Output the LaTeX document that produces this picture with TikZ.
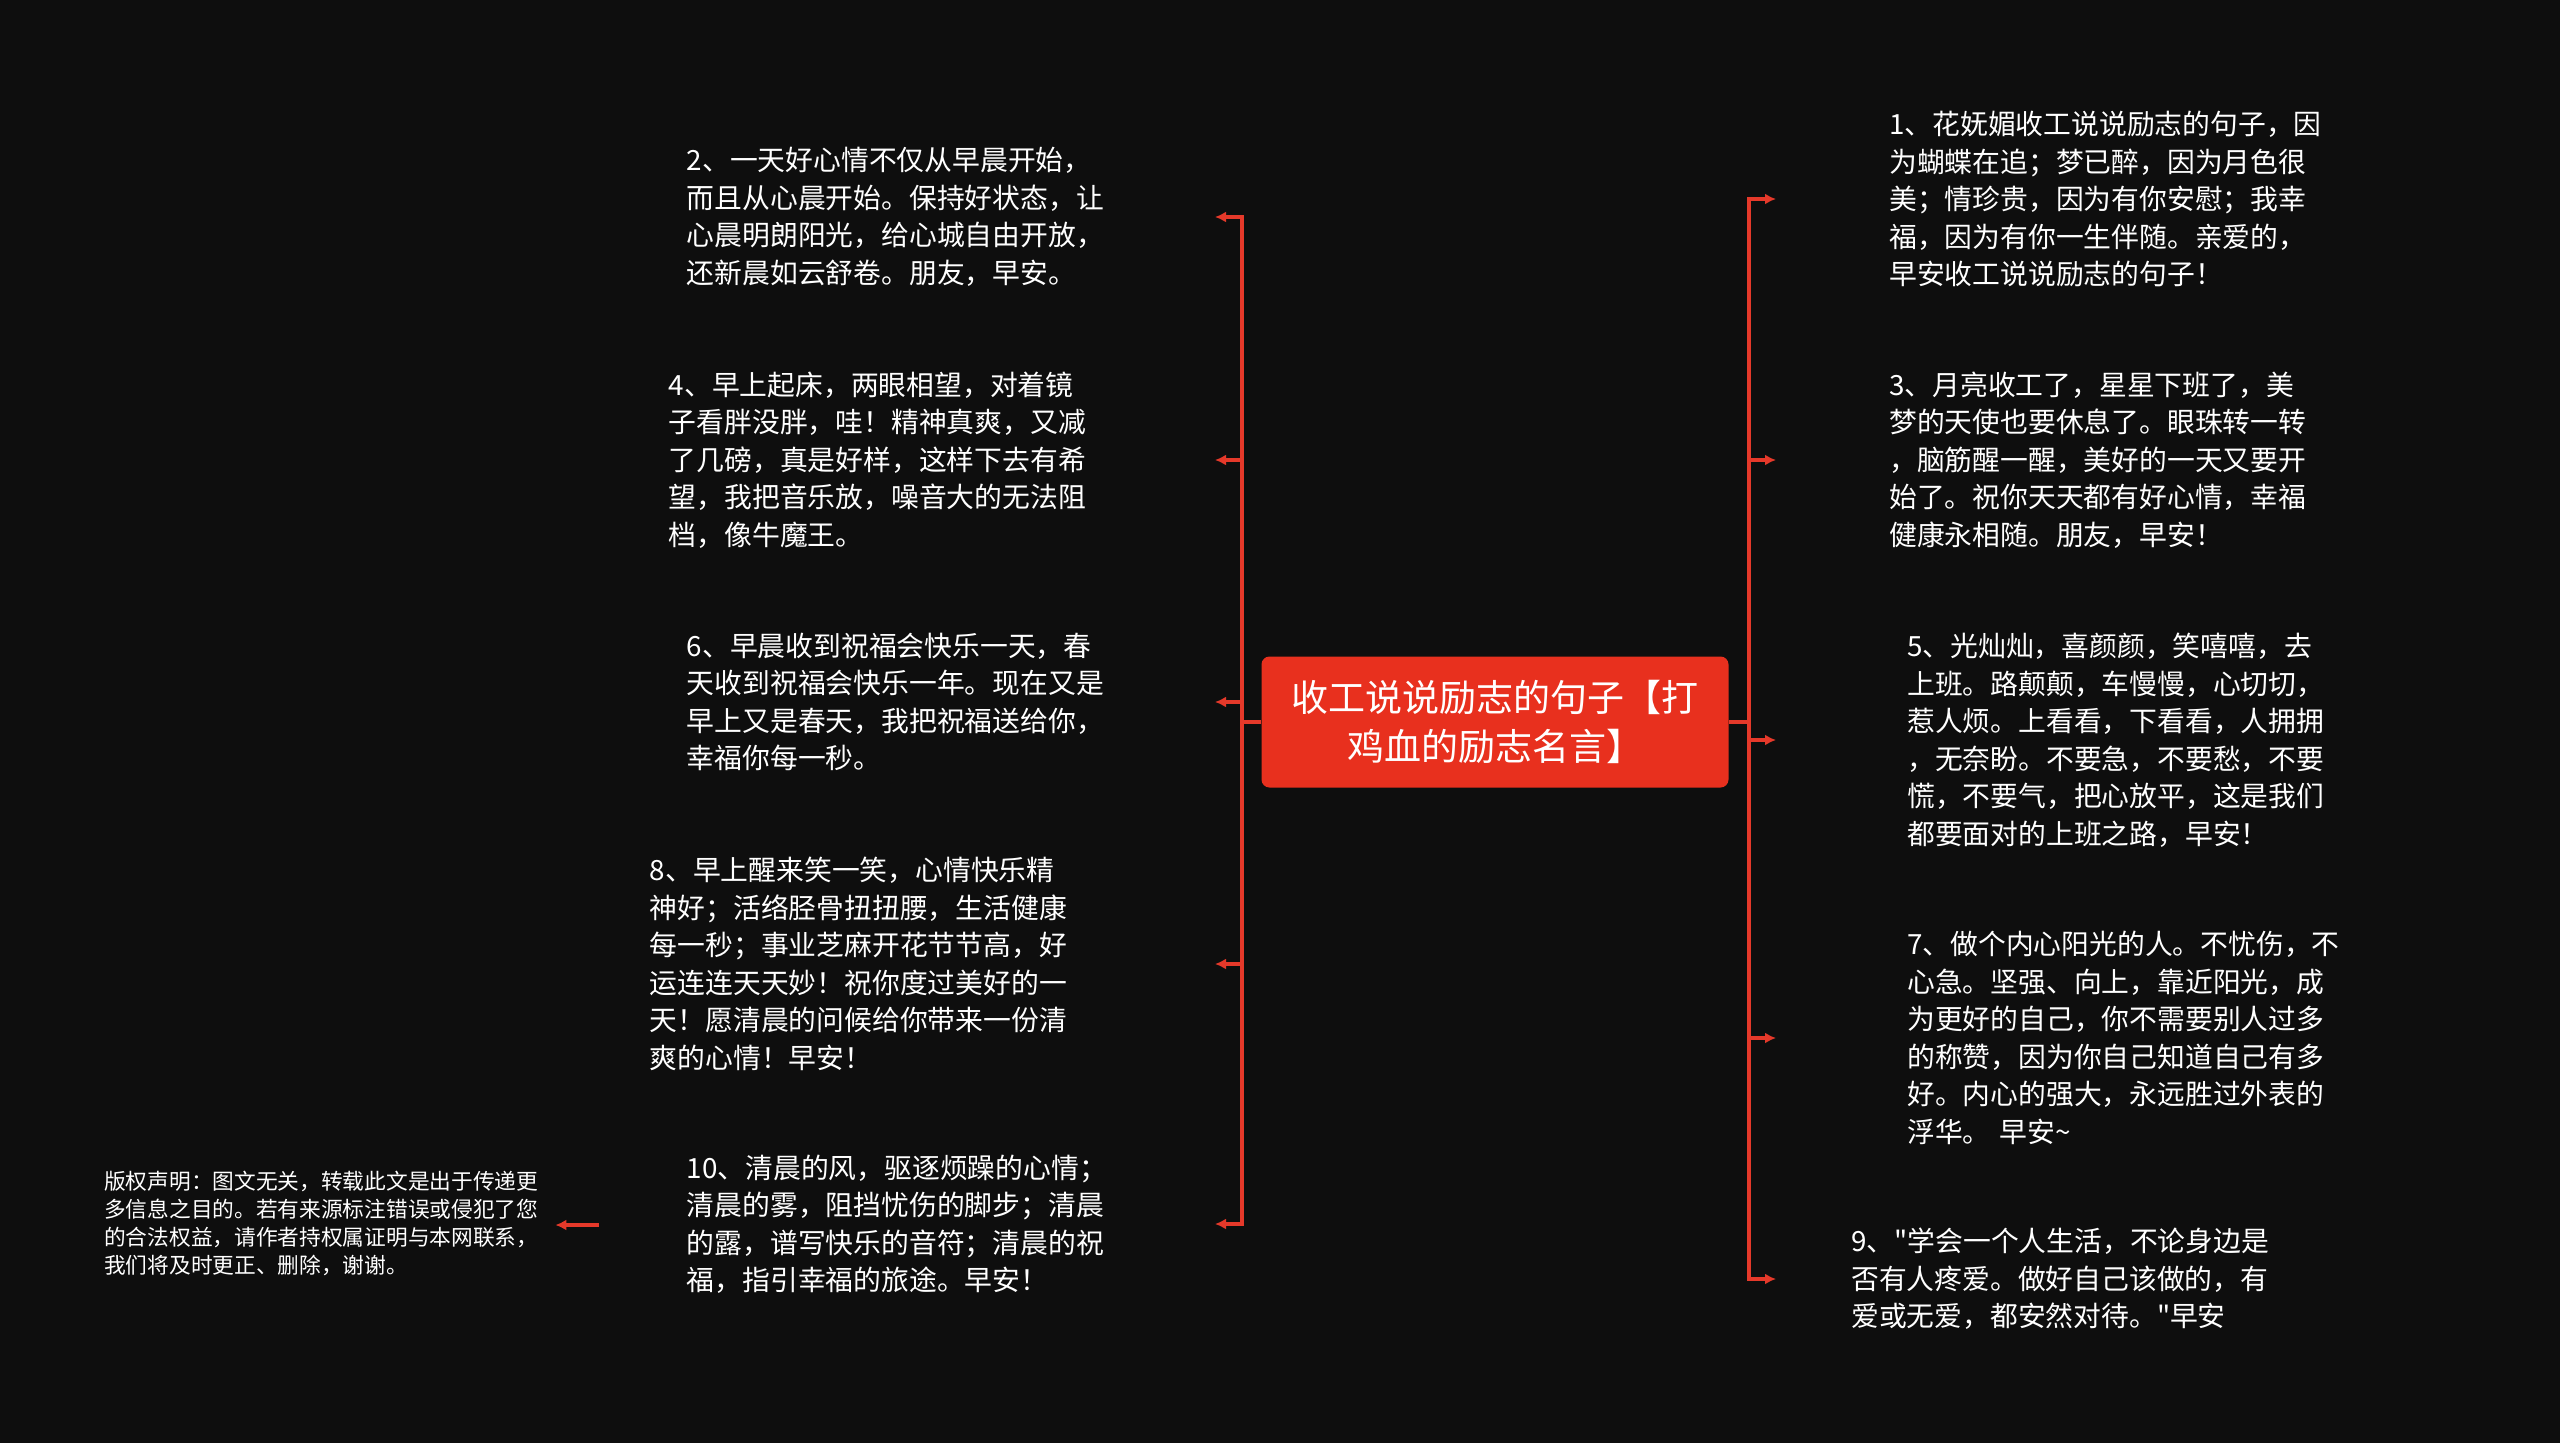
\documentclass[tikz,border=0pt]{standalone}
\usepackage{fontspec}
\newfontfamily\cjkfont{Noto Sans CJK SC}
\usetikzlibrary{arrows.meta}
\definecolor{bg}{HTML}{0E0E0E}
\definecolor{redc}{HTML}{E8301E}
\definecolor{linec}{HTML}{E5392A}
\begin{document}
\begin{tikzpicture}[x=1pt,y=-1pt,
  conn/.style={draw=linec, line width=3.3pt},
  arr/.style={conn, -{Latex[length=11pt,width=11pt]}},
  leaf/.style={text=white, inner sep=0pt, align=left, font=\cjkfont\fontsize{27.8}{37.5}\selectfont},
  root/.style={fill=redc, text=white, rounded corners=8pt, minimum width=467pt, minimum height=131pt, inner sep=0pt, align=center, font=\cjkfont\fontsize{37}{49}\selectfont},
  note/.style={text=white, inner sep=0pt, align=left, font=\cjkfont\fontsize{21.7}{28}\selectfont}]
\useasboundingbox (0,0) rectangle (2560,1443);
\fill[bg] (0,0) rectangle (2560,1443);
\node[root] (c) at (1495,722) {收工说说励志的句子【打\\鸡血的励志名言】};
% left
\node[leaf, anchor=east, text width=528pt] (n2) at (1215,217) {2、一天好心情不仅从早晨开始，\\而且从心晨开始。保持好状态，让\\心晨明朗阳光，给心城自由开放，\\还新晨如云舒卷。朋友，早安。};
\node[leaf, anchor=east, text width=546pt] (n4) at (1215,460) {4、早上起床，两眼相望，对着镜\\子看胖没胖，哇！精神真爽，又减\\了几磅，真是好样，这样下去有希\\望，我把音乐放，噪音大的无法阻\\档，像牛魔王。};
\node[leaf, anchor=east, text width=528pt] (n6) at (1215,702) {6、早晨收到祝福会快乐一天，春\\天收到祝福会快乐一年。现在又是\\早上又是春天，我把祝福送给你，\\幸福你每一秒。};
\node[leaf, anchor=east, text width=565pt] (n8) at (1215,964) {8、早上醒来笑一笑，心情快乐精\\神好；活络胫骨扭扭腰，生活健康\\每一秒；事业芝麻开花节节高，好\\运连连天天妙！祝你度过美好的一\\天！愿清晨的问候给你带来一份清\\爽的心情！早安！};
\node[leaf, anchor=east, text width=528pt] (n10) at (1215,1224) {10、清晨的风，驱逐烦躁的心情；\\清晨的雾，阻挡忧伤的脚步；清晨\\的露，谱写快乐的音符；清晨的祝\\福，指引幸福的旅途。早安！};
% right
\node[leaf, anchor=west, text width=480pt, inner xsep=113pt] (n1) at (1776,199) {1、花妩媚收工说说励志的句子，因\\为蝴蝶在追；梦已醉，因为月色很\\美；情珍贵，因为有你安慰；我幸\\福，因为有你一生伴随。亲爱的，\\早安收工说说励志的句子！};
\node[leaf, anchor=west, text width=480pt, inner xsep=113pt] (n3) at (1776,460) {3、月亮收工了，星星下班了，美\\梦的天使也要休息了。眼珠转一转\\，脑筋醒一醒，美好的一天又要开\\始了。祝你天天都有好心情，幸福\\健康永相随。朋友，早安！};
\node[leaf, anchor=west, text width=480pt, inner xsep=131pt] (n5) at (1776,740) {5、光灿灿，喜颜颜，笑嘻嘻，去\\上班。路颠颠，车慢慢，心切切，\\惹人烦。上看看，下看看，人拥拥\\，无奈盼。不要急，不要愁，不要\\慌，不要气，把心放平，这是我们\\都要面对的上班之路，早安！};
\node[leaf, anchor=west, text width=480pt, inner xsep=131pt] (n7) at (1776,1038) {7、做个内心阳光的人。不忧伤，不\\心急。坚强、向上，靠近阳光，成\\为更好的自己，你不需要别人过多\\的称赞，因为你自己知道自己有多\\好。内心的强大，永远胜过外表的\\浮华。 早安\textasciitilde};
\node[leaf, anchor=west, text width=480pt, inner xsep=75pt] (n9) at (1776,1279) {9、"学会一个人生活，不论身边是\\否有人疼爱。做好自己该做的，有\\爱或无爱，都安然对待。"早安};
% copyright
\node[note, anchor=west, text width=451pt] (cp) at (104,1223) {版权声明：图文无关，转载此文是出于传递更\\多信息之目的。若有来源标注错误或侵犯了您\\的合法权益，请作者持权属证明与本网联系，\\我们将及时更正、删除，谢谢。};
% connectors
\coordinate (lt) at (1242,722);
\coordinate (rt) at (1749,722);
\draw[conn] (c.west) -- (lt);
\draw[conn] (c.east) -- (rt);
\foreach \n in {n2,n4,n6,n8,n10} \draw[arr] (lt) |- (\n.east);
\foreach \n in {n1,n3,n5,n7,n9} \draw[arr] (rt) |- (\n.west);
\coordinate (ca) at (599,1225);
\draw[arr] (ca) -- (cp.east |- ca);
\end{tikzpicture}
\end{document}
